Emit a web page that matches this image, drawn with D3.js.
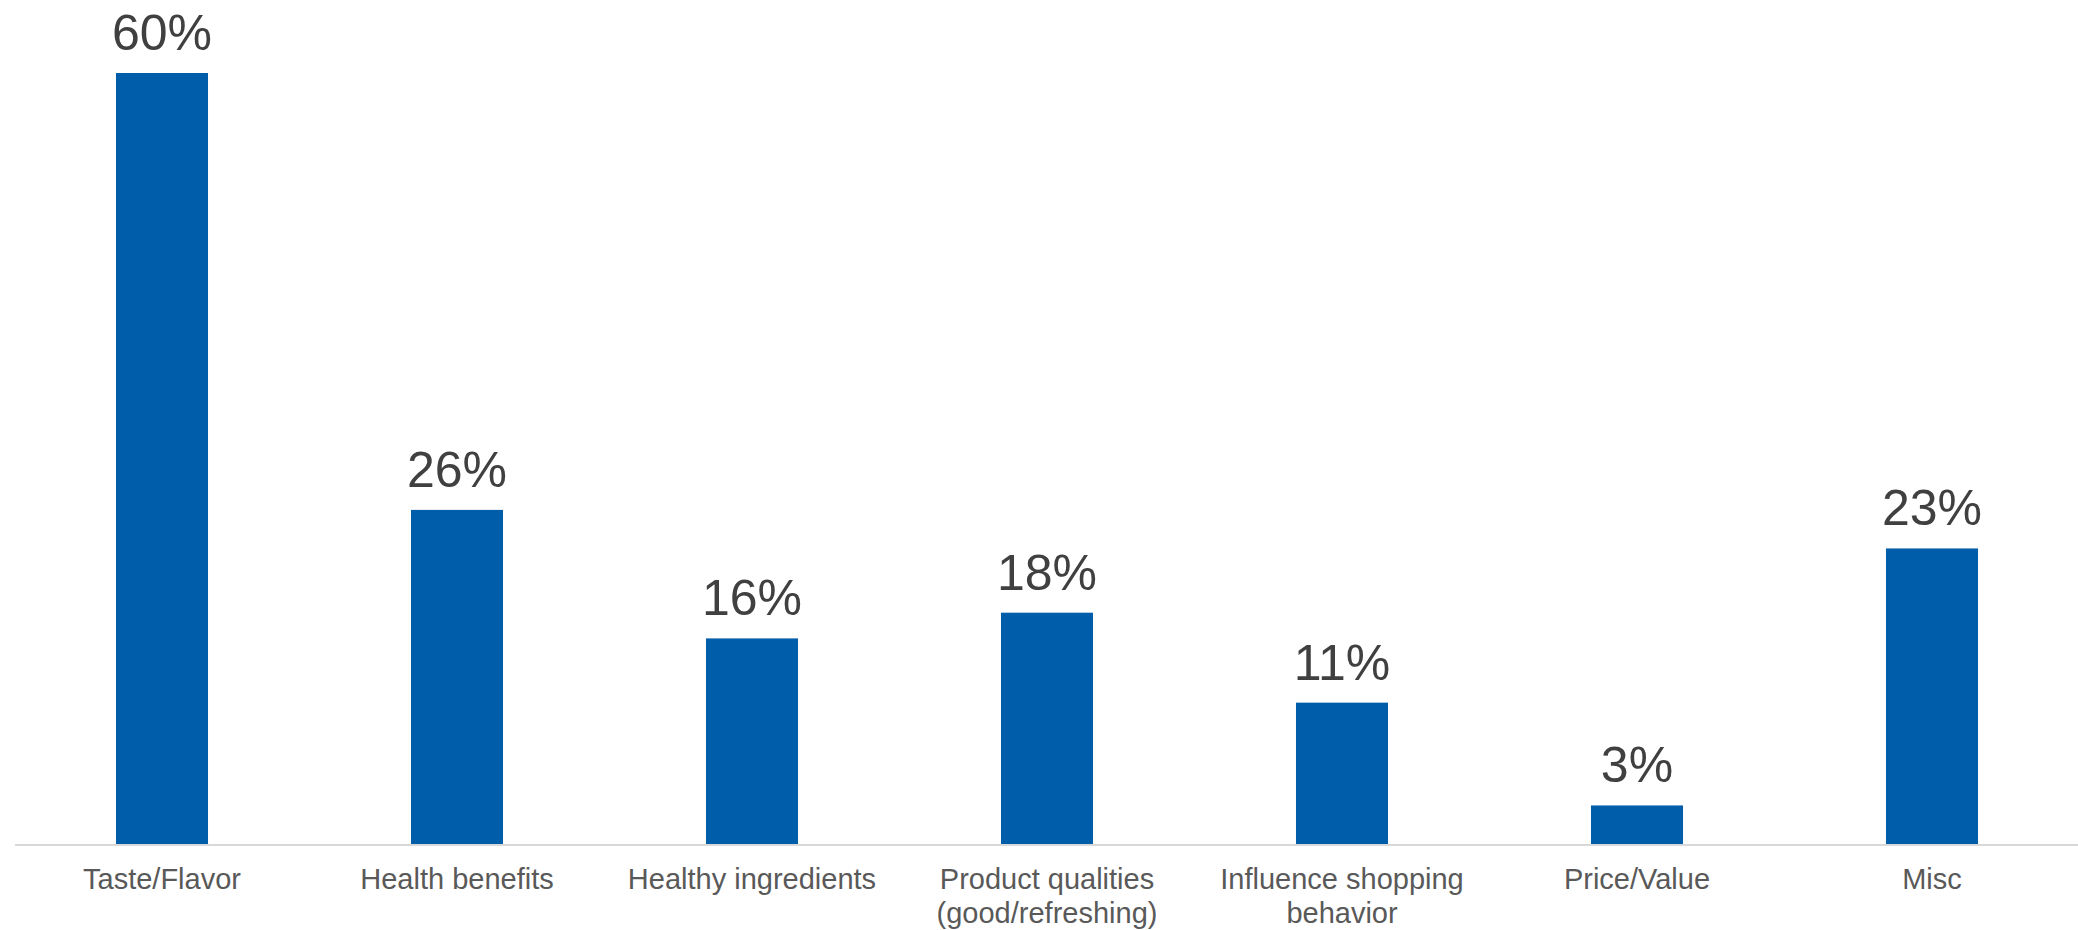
<!DOCTYPE html>
<html>
<head>
<meta charset="utf-8">
<script src="https://cdn.jsdelivr.net/npm/d3@7"></script>
<style>
  html, body { margin: 0; padding: 0; background: #ffffff; }
  svg { display: block; }
</style>
</head>
<body>
<svg id="chart" width="2078" height="930"></svg>
<script>
const categories = [
  ["Taste/Flavor"],
  ["Health benefits"],
  ["Healthy ingredients"],
  ["Product qualities", "(good/refreshing)"],
  ["Influence shopping", "behavior"],
  ["Price/Value"],
  ["Misc"]
];
const values = [60, 26, 16, 18, 11, 3, 23];
const valueLabels = ["60%", "26%", "16%", "18%", "11%", "3%", "23%"];

const W = 2078, H = 930;
const svg = d3.select("#chart");
const font = "'Liberation Sans', Arial, sans-serif";

const keys = categories.map((c, i) => i);
const pad = 0.688;
const x = d3.scaleBand().domain(keys).range([14.5, 2079.5]).paddingInner(pad).paddingOuter(pad / 2);
const y = d3.scaleLinear().domain([0, 60]).range([844, 73]);

// bars
svg.append("g").selectAll("rect")
  .data(values)
  .join("rect")
  .attr("x", (d, i) => x(i))
  .attr("width", x.bandwidth())
  .attr("y", d => y(d))
  .attr("height", d => y(0) - y(d))
  .attr("fill", "#005DAA");

// baseline axis
const xAxis = d3.axisBottom(x).tickSize(0).tickFormat("");
const axisG = svg.append("g").attr("transform", `translate(0,${y(0) + 1})`).call(xAxis);
axisG.select(".domain").attr("stroke", "#d9d9d9").attr("stroke-width", 2).attr("d", `M15,0H${W}`);

// value labels
svg.append("g").selectAll("text")
  .data(values)
  .join("text")
  .attr("x", (d, i) => x(i) + x.bandwidth() / 2)
  .attr("y", d => y(d) - 23)
  .attr("text-anchor", "middle")
  .attr("font-family", font)
  .attr("font-size", 50)
  .attr("fill", "#404040")
  .text((d, i) => valueLabels[i]);

// category labels
const cat = svg.append("g").selectAll("text")
  .data(categories)
  .join("text")
  .attr("x", (d, i) => x(i) + x.bandwidth() / 2)
  .attr("y", 889)
  .attr("text-anchor", "middle")
  .attr("font-family", font)
  .attr("font-size", 29)
  .attr("fill", "#595959");
cat.each(function(lines, i) {
  const t = d3.select(this);
  lines.forEach((line, j) => {
    t.append("tspan")
      .attr("x", x(i) + x.bandwidth() / 2)
      .attr("dy", j === 0 ? 0 : 34)
      .text(line);
  });
});
</script>
</body>
</html>
